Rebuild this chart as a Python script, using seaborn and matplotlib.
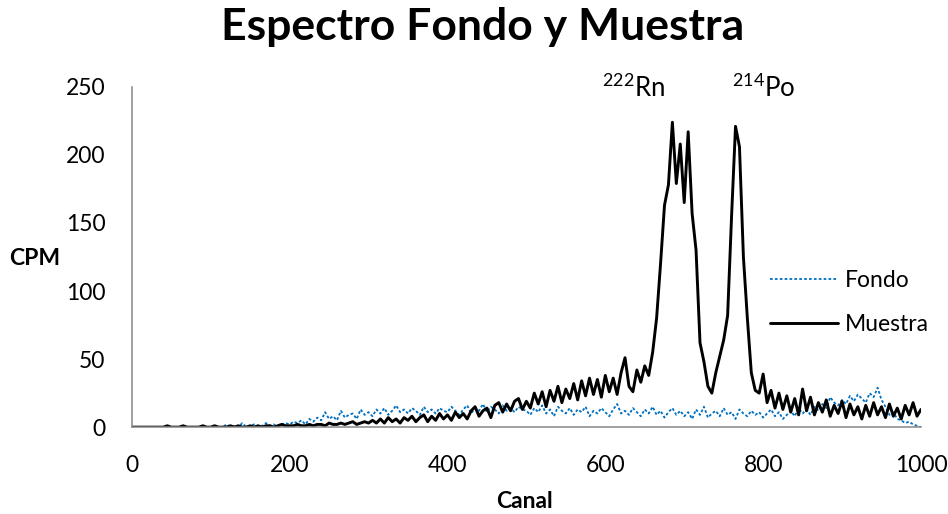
import numpy as np
import pandas as pd
import matplotlib
matplotlib.use("Agg")
import matplotlib.pyplot as plt
import seaborn as sns

# ---- data (values read every 5 channels) ----
canal = list(range(0, 1001, 5))

muestra = [
    # 0-95
    0, 0, 0, 0, 0, 0, 0, 0, 0, 1, 0, 0, 0, 1, 0, 0, 0, 0, 1, 0,
    # 100-195
    0, 1, 0, 0, 0, 1, 0, 1, 0, 0, 1, 0, 1, 0, 1, 1, 0, 1, 2, 1,
    # 200-295
    1, 1, 2, 1, 1, 2, 1, 2, 2, 1, 3, 2, 2, 3, 2, 3, 4, 2, 3, 4,
    # 300-395
    3, 5, 3, 6, 3, 7, 4, 6, 3, 7, 5, 8, 4, 7, 9, 4, 8, 5, 10, 6,
    # 400-495
    9, 5, 11, 7, 10, 6, 12, 15, 8, 12, 14, 7, 16, 18, 11, 17, 12, 19, 21, 13,
    # 500-595
    19, 14, 25, 17, 26, 15, 27, 19, 30, 18, 28, 21, 32, 20, 34, 23, 36, 24, 35, 22,
    # 600-695
    38, 26, 36, 24, 40, 51, 30, 26, 42, 33, 45, 38, 55, 80, 120, 163, 178, 224, 179, 208,
    # 700-795
    165, 217, 157, 130, 62, 48, 30, 25, 40, 52, 64, 82, 155, 221, 206, 125, 80, 40, 27, 25,
    # 800-895
    39, 18, 27, 14, 25, 13, 23, 11, 21, 9, 28, 12, 22, 9, 18, 11, 20, 8, 16, 10,
    # 900-1000
    19, 7, 17, 9, 15, 6, 16, 8, 18, 9, 15, 7, 17, 8, 14, 6, 16, 9, 18, 8, 13,
]

fondo = [
    # 0-95
    0, 0, 0, 0, 0, 0, 0, 0, 0, 0, 0, 0, 0, 0, 0, 0, 0, 0, 0, 0,
    # 100-195
    0, 1, 0, 0, 2, 0, 1, 0, 3, 0, 1, 2, 0, 1, 3, 1, 2, 0, 2, 3,
    # 200-295
    2, 4, 3, 5, 2, 6, 4, 7, 5, 11, 6, 8, 5, 12, 7, 9, 10, 6, 13, 9,
    # 300-395
    11, 8, 13, 10, 14, 9, 12, 16, 11, 13, 10, 14, 12, 9, 15, 11, 13, 10, 14, 12,
    # 400-495
    11, 15, 12, 9, 13, 16, 10, 14, 12, 17, 11, 15, 13, 10, 16, 12, 14, 11, 15, 13,
    # 500-595
    12, 9, 14, 11, 16, 10, 13, 8, 15, 12, 10, 14, 9, 13, 11, 15, 8, 12, 10, 14,
    # 600-695
    11, 8, 13, 17, 10, 12, 9, 14, 11, 8, 13, 10, 15, 9, 12, 7, 11, 14, 9, 12,
    # 700-795
    8, 11, 6, 13, 9, 15, 7, 10, 12, 8, 14, 9, 11, 6, 13, 10, 8, 12, 9, 11,
    # 800-895
    7, 10, 13, 8, 11, 6, 9, 12, 8, 14, 10, 13, 9, 15, 12, 17, 14, 22, 18, 16,
    # 900-1000
    20, 17, 23, 19, 24, 21, 18, 25, 22, 29, 20, 15, 9, 11, 6, 5, 3, 4, 2, 1, 0,
]

x_ticks = [0, 200, 400, 600, 800, 1000]
y_ticks = [0, 50, 100, 150, 200, 250]
titulo = "Espectro Fondo y Muestra"
picos = [("$^{222}$Rn", 636, 249), ("$^{214}$Po", 801, 249)]

df = pd.DataFrame({"Canal": canal, "Fondo": fondo, "Muestra": muestra})

# ---- style ----
sns.set_style("white")
plt.rcParams["font.family"] = ["Lato", "DejaVu Sans"]
plt.rcParams["mathtext.default"] = "regular"
plt.rcParams["text.color"] = "black"

fig = plt.figure(figsize=(9.48, 5.14), dpi=100)
ax = fig.add_axes([0.139, 0.169, 0.8325, 0.662])

sns.lineplot(data=df, x="Canal", y="Fondo", ax=ax, color="#0070C0",
             linewidth=1.3, linestyle=(0, (1.5, 1.2)), label="Fondo")
sns.lineplot(data=df, x="Canal", y="Muestra", ax=ax, color="black",
             linewidth=2.1, label="Muestra")

ax.set_xlim(0, 1000)
ax.set_ylim(0, 250)
ax.set_xticks(x_ticks)
ax.set_yticks(y_ticks)
ax.tick_params(axis="both", labelsize=16.5, colors="#868686", labelcolor="black",
               direction="out", length=7, width=1.1)
ax.tick_params(axis="x", pad=13)
ax.tick_params(axis="y", pad=12)
for s in ["top", "right"]:
    ax.spines[s].set_visible(False)
for s in ["left", "bottom"]:
    ax.spines[s].set_color("#868686")
    ax.spines[s].set_linewidth(1.1)

ax.set_xlabel("Canal", fontsize=16.5, fontweight="bold", color="black",
              va="center", ha="center")
ax.set_ylabel("CPM", fontsize=16.5, fontweight="bold", rotation=0, color="black",
              va="center", ha="center")
ax.xaxis.set_label_coords(0.497, -0.22)
ax.yaxis.set_label_coords(-0.123, 0.497)

fig.text(0.5095, 0.947, titulo, fontsize=32, fontweight="bold",
         ha="center", va="center", color="black")

for txt, cx, cy in picos:
    ax.text(cx, cy, txt, fontsize=18.5, ha="center", va="center")

leg = ax.legend(loc="center left", bbox_to_anchor=(0.782, 0.365), frameon=False,
                fontsize=16.5, handlelength=3.0, labelspacing=1.0, handletextpad=0.3)

fig.savefig("out.png", dpi=100)
